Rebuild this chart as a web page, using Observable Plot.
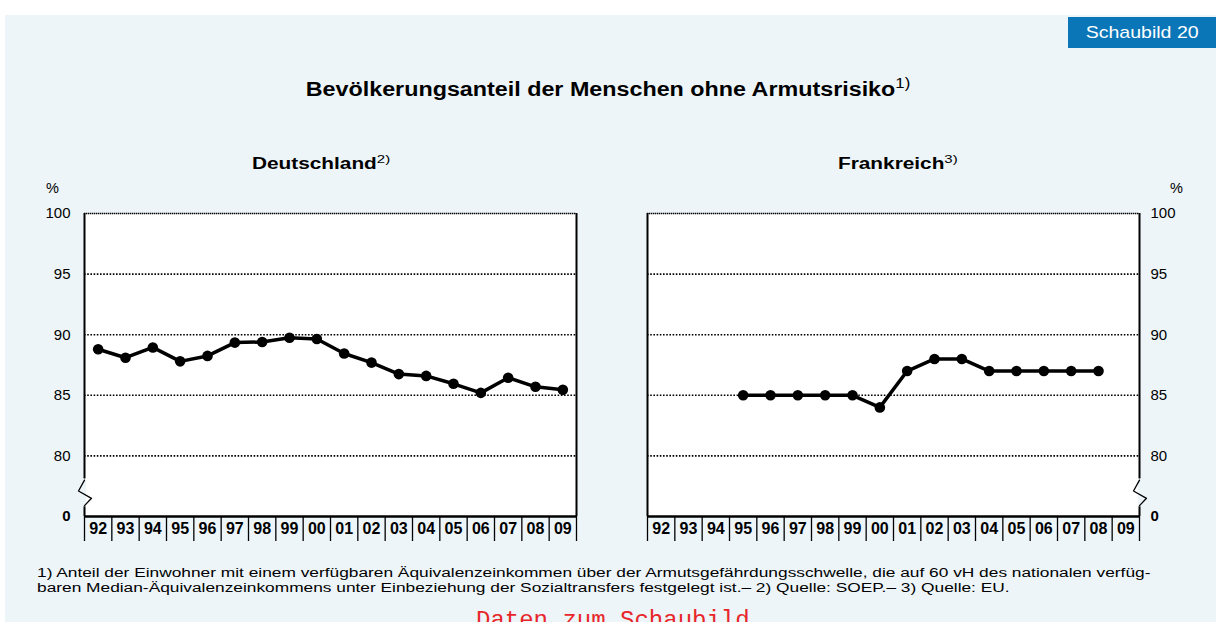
<!DOCTYPE html>
<html>
<head>
<meta charset="utf-8">
<script src="https://cdn.jsdelivr.net/npm/d3@7"></script>
<script src="https://cdn.jsdelivr.net/npm/@observablehq/plot@0.6"></script>
<style>
  html, body { margin: 0; padding: 0; background: #ffffff; }
  #page { position: relative; width: 1216px; height: 622px; overflow: hidden; font-family: "Liberation Sans", Arial, sans-serif; color: #000; }
  #bg { position: absolute; left: 5px; top: 15px; width: 1211px; height: 607px; background: #edf5f9; }
  .abs { position: absolute; white-space: nowrap; }
  #badge { left: 1068px; top: 17px; width: 148px; height: 31px; background: #0a76b8; color: #fff; font-size: 17px; line-height: 31px; text-align: center; }
  #badge span { display: inline-block; transform: scaleX(1.15); }
  #title { left: 0; width: 1216px; top: 78px; text-align: center; font-size: 20px; font-weight: bold; transform: scaleX(1.165); transform-origin: 608px 0; }
  sup { font-weight: normal; font-size: 0.72em; vertical-align: 0.55em; line-height: 0; }
  .sub { top: 155px; font-size: 16px; font-weight: bold; transform: scaleX(1.3); transform-origin: 0 0; }
  .pct { top: 180px; font-size: 14.5px; }
  #foot { left: 37px; top: 566px; font-size: 12.5px; line-height: 14.5px; transform: scaleX(1.385); transform-origin: 0 0; }
  #daten { left: 476px; top: 607px; font-family: "Liberation Mono", "Courier New", monospace; color: #e8262a; font-size: 24px; }
  .chart { position: absolute; top: 190px; }
</style>
</head>
<body>
<div id="page">
  <div id="bg"></div>
  <div id="badge" class="abs"><span>Schaubild 20</span></div>
  <div id="title" class="abs">Bevölkerungsanteil der Menschen ohne Armutsrisiko<sup>1)</sup></div>
  <div class="abs sub" style="left:252px">Deutschland<sup>2)</sup></div>
  <div class="abs sub" style="left:838px">Frankreich<sup>3)</sup></div>
  <div class="abs pct" style="left:46px">%</div>
  <div class="abs pct" style="left:1170px">%</div>
  <div id="chartDE" class="chart" style="left:0px"></div>
  <div id="chartFR" class="chart" style="left:600px"></div>
  <div id="foot" class="abs">1) Anteil der Einwohner mit einem verfügbaren Äquivalenzeinkommen über der Armutsgefährdungsschwelle, die auf 60 vH des nationalen verfüg-<br>baren Median-Äquivalenzeinkommens unter Einbeziehung der Sozialtransfers festgelegt ist.– 2) Quelle: SOEP.– 3) Quelle: EU.</div>
  <div id="daten" class="abs">Daten zum Schaubild</div>
</div>
<script>
// ---- data ----
const years = ["92","93","94","95","96","97","98","99","00","01","02","03","04","05","06","07","08","09"];
const deutschland = [88.8, 88.1, 88.95, 87.8, 88.25, 89.35, 89.4, 89.75, 89.65, 88.45, 87.7, 86.75, 86.6, 85.95, 85.2, 86.45, 85.7, 85.45];
const frankreich = [null, null, null, 85, 85, 85, 85, 85, 84, 87, 88, 88, 87, 87, 87, 87, 87, null];
const yTicks = [80, 85, 90, 95, 100];
const yBreakValue = 75;       // axis position labelled "0" (broken axis)
const yBreakLabel = "0";

function makeChart(values, side) {
  const data = values.map((v, i) => ({i, v})).filter(d => d.v != null);
  const n = years.length;
  const idx = d3.range(n);
  const bounds = d3.range(n + 1).map(i => i - 0.5);
  const left = side === "left";
  const xMin = -0.5, xMax = n - 0.5;
  const axisX = left ? xMin : xMax;
  // zigzag break mark on the value axis, between 0 and 80
  const zig = [
    {x: axisX, y: 78.0, dx: 0},
    {x: axisX, y: 77.1, dx: -6},
    {x: axisX, y: 76.5, dx: 7},
    {x: axisX, y: 75.9, dx: 0}
  ];
  return Plot.plot({
    width: left ? 600 : 616,
    height: 356,
    marginLeft: left ? 84 : 47,
    marginRight: left ? 24 : 77,
    marginTop: 23,
    marginBottom: 30,
    style: {background: "transparent", fontFamily: "Liberation Sans, Arial, sans-serif", overflow: "visible"},
    x: {type: "linear", domain: [xMin, xMax]},
    y: {type: "linear", domain: [75, 100]},
    marks: [
      Plot.frame({fill: "white", stroke: null}),
      Plot.gridY(yTicks.filter(t => t < 100), {stroke: "#000", strokeOpacity: 1, strokeWidth: 1.6, strokeDasharray: "1.6,1.6"}),
      Plot.ruleY([100], {stroke: "#000", strokeWidth: 1.6, strokeDasharray: "1.4,0.6"}),
      Plot.ruleX([xMin, xMax], {stroke: "#000", strokeWidth: 2}),
      Plot.ruleY([75], {stroke: "#000", strokeWidth: 2.5}),
      // break mark: white gap + zigzag
      Plot.ruleX([axisX], {y1: 75.8, y2: 78.1, stroke: "#edf5f9", strokeWidth: 3}),
      Plot.line(zig, {x: "x", y: "y", stroke: "#000", strokeWidth: 1.3,
        render: (index, scales, values, dims, ctx, next) => {
          const g = next(index, scales, values, dims, ctx);
          const path = g.querySelector("path");
          const pts = zig.map(d => [scales.x(d.x) + d.dx, scales.y(d.y)]);
          path.setAttribute("d", d3.line()(pts));
          return g;
        }}),
      // x axis: cell separators and labels
      Plot.axisX(bounds, {tickSize: 25, tickFormat: () => "", stroke: "#000", strokeWidth: 1.3, tickPadding: 0}),
      Plot.axisX(idx, {tickSize: 0, tickPadding: 6, tickFormat: i => years[i], fontSize: 16, fontWeight: "bold", fill: "#000"}),
      // y axis
      Plot.axisY(yTicks, {anchor: side, tickSize: 0, tickPadding: left ? 14 : 11, fontSize: 15, fill: "#000", label: null}),
      Plot.axisY([yBreakValue], {anchor: side, tickSize: 0, tickPadding: left ? 14 : 11, tickFormat: () => yBreakLabel, fontSize: 15, fontWeight: "bold", fill: "#000", label: null}),
      // series
      Plot.line(data, {x: "i", y: "v", stroke: "#000", strokeWidth: 3.5}),
      Plot.dot(data, {x: "i", y: "v", r: 5.3, fill: "#000", stroke: null})
    ]
  });
}

document.getElementById("chartDE").appendChild(makeChart(deutschland, "left"));
document.getElementById("chartFR").appendChild(makeChart(frankreich, "right"));
</script>
</body>
</html>
